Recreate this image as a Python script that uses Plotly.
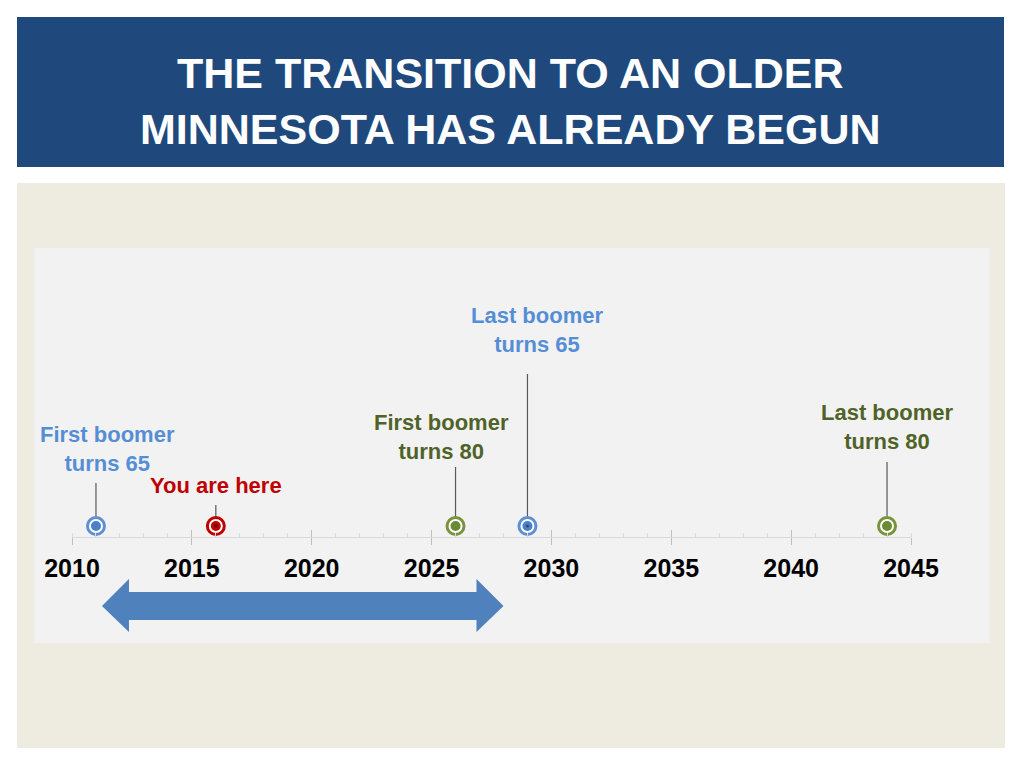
import plotly.graph_objects as go

W, H = 1024, 768
OFF = 8  # page body margin; positions below are screen pixels

# timeline events
years = [2011, 2016, 2026, 2029, 2044]
labels = ["First boomer<br>turns 65", "You are here", "First boomer<br>turns 80",
          "Last boomer<br>turns 65", "Last boomer<br>turns 80"]
kinds = ["blue", "red", "green", "blue", "green"]

axis_start, axis_end = 2010, 2045
major_step = 5
arrow_span = [2011.25, 2028.0]

title = "THE TRANSITION TO AN OLDER<br>MINNESOTA HAS ALREADY BEGUN"

# colours per kind
ring = {"blue": "#5B8FD6", "red": "#C00000", "green": "#77933C"}
fill = {"blue": "#4A7FCC", "red": "#C00000", "green": "#6A8A35"}
text_col = {"blue": "#558ED5", "red": "#C00000", "green": "#4F6228"}

# layout positions (screen pixels) for labels / stems
label_y = [448.5, 485, 436.5, 329.5, 426.5]
label_dx = [12, 0, -14, 10, 0]
stem_top = [483, 505, 467, 374, 462]
marker_y = 526
axis_y = 537
x0_px, x1_px = 72, 911
FONT = "Liberation Sans"


def px(x):
    return (x - OFF) / W


def py(y):
    return 1 - (y - OFF) / H


fig = go.Figure()

# background panels
fig.add_shape(type="rect", xref="paper", yref="paper", x0=px(17), x1=px(1004),
              y0=py(167), y1=py(17), fillcolor="#1F497D", line_width=0, layer="below")
fig.add_shape(type="rect", xref="paper", yref="paper", x0=px(17), x1=px(1005),
              y0=py(748), y1=py(183), fillcolor="#EEECE1", line_width=0, layer="below")
fig.add_shape(type="rect", xref="paper", yref="paper", x0=px(34), x1=px(990),
              y0=py(643), y1=py(248), fillcolor="#F2F2F2", line_width=0, layer="below")

# double-headed arrow
px_per_year = (x1_px - x0_px) / (axis_end - axis_start)
head = 27 / px_per_year
a0, a1 = arrow_span
ax = [a0, a0 + head, a0 + head, a1 - head, a1 - head, a1, a1 - head, a1 - head, a0 + head, a0 + head, a0]
ay = [606, 579, 592, 592, 579, 606, 632, 620, 620, 632, 606]
fig.add_trace(go.Scatter(x=ax, y=ay, mode="lines", fill="toself", fillcolor="#4F81BD",
                         line=dict(color="#4F81BD", width=0), hoverinfo="skip"))

# stems
for yr, top in zip(years, stem_top):
    fig.add_trace(go.Scatter(x=[yr, yr], y=[top, marker_y - 10], mode="lines",
                             line=dict(color="#595959", width=1.2), hoverinfo="skip"))

# markers
for yr, k in zip(years, kinds):
    fig.add_trace(go.Scatter(x=[yr], y=[marker_y], mode="markers",
                             marker=dict(size=17, color="#FFFFFF", line=dict(color=ring[k], width=3)),
                             hoverinfo="skip"))
    fig.add_trace(go.Scatter(x=[yr], y=[marker_y], mode="markers",
                             marker=dict(size=10, color=fill[k], line_width=0), hoverinfo="skip"))

# small centre dots
fig.add_trace(go.Scatter(x=[years[1], years[3]], y=[marker_y, marker_y], mode="markers",
                         marker=dict(size=[4, 3], color=["#5A0000", "#1F2F50"], line_width=0),
                         hoverinfo="skip"))

# dummy trace for overlay axis (upper half of major ticks)
fig.add_trace(go.Scatter(x=[axis_start], y=[-50], xaxis="x2", mode="markers",
                         marker_opacity=0, hoverinfo="skip"))

# labels
for yr, lab, k, ly, dx in zip(years, labels, kinds, label_y, label_dx):
    extra = {}
    if k == "red":
        extra = dict(bgcolor="#F2F2F2", borderpad=2)
    fig.add_annotation(x=yr, y=ly, xref="x", yref="y", text=lab, showarrow=False,
                       xshift=dx, xanchor="center", yanchor="middle", align="center",
                       font=dict(family=FONT, size=22, color=text_col[k], weight="bold"), **extra)

# title
fig.add_annotation(x=px(510), y=py(101), xref="paper", yref="paper", text=title,
                   showarrow=False, xanchor="center", yanchor="middle", align="center",
                   font=dict(family=FONT, size=43, color="white", weight="bold"))

axis_common = dict(domain=[px(x0_px), px(x1_px)], range=[axis_start, axis_end],
                   anchor="free", position=py(axis_y), showgrid=False, zeroline=False,
                   fixedrange=True, automargin=False)

fig.update_layout(
    width=W, height=H, margin=dict(l=0, r=0, t=0, b=0, pad=0, autoexpand=False),
    paper_bgcolor="white", plot_bgcolor="rgba(0,0,0,0)", showlegend=False,
    xaxis=dict(**axis_common, showline=True, linecolor="#D9D9D9", linewidth=1,
               tick0=axis_start, dtick=major_step, ticks="outside", ticklen=7,
               tickcolor="#BFBFBF", tickwidth=1, ticklabelstandoff=2,
               tickfont=dict(family=FONT, size=25, color="black", weight="bold"),
               minor=dict(dtick=1, ticks="inside", ticklen=4, tickcolor="#D9D9D9", tickwidth=1)),
    xaxis2=dict(**axis_common, overlaying="x", showline=False, tick0=axis_start,
                dtick=major_step, ticks="inside", ticklen=7, tickcolor="#BFBFBF",
                tickwidth=1, showticklabels=False),
    yaxis=dict(domain=[0, 1], range=[H + OFF, OFF], visible=False, fixedrange=True,
               automargin=False),
)

fig.write_html("out.html")
